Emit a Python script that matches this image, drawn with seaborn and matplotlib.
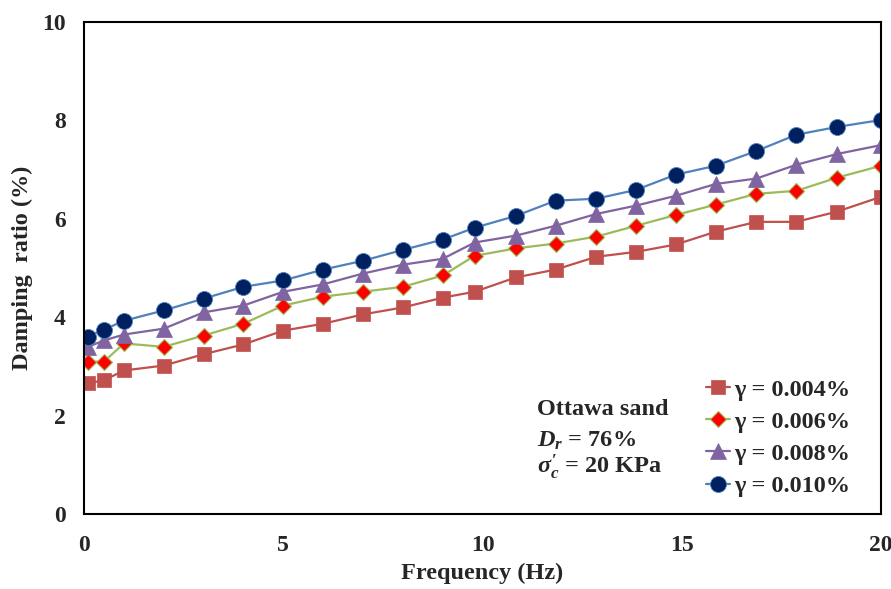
import matplotlib
matplotlib.use("Agg")
import matplotlib.pyplot as plt
import seaborn as sns
import pandas as pd

freq = [0.1, 0.5, 1, 2, 3, 4, 5, 6, 7, 8, 9, 9.8, 10.83, 11.83, 12.85, 13.85,
        14.85, 15.85, 16.87, 17.87, 18.9, 20]
d004 = [2.66, 2.72, 2.92, 3.02, 3.25, 3.45, 3.73, 3.87, 4.06, 4.20, 4.40, 4.52,
        4.81, 4.97, 5.23, 5.33, 5.48, 5.74, 5.94, 5.94, 6.15, 6.45]
d006 = [3.10, 3.10, 3.47, 3.40, 3.63, 3.87, 4.24, 4.42, 4.52, 4.62, 4.85, 5.25,
        5.40, 5.50, 5.64, 5.86, 6.08, 6.29, 6.51, 6.57, 6.84, 7.08]
d008 = [3.40, 3.53, 3.65, 3.77, 4.10, 4.24, 4.52, 4.67, 4.89, 5.07, 5.19, 5.52,
        5.66, 5.86, 6.10, 6.27, 6.47, 6.71, 6.82, 7.10, 7.32, 7.50]
d010 = [3.61, 3.75, 3.93, 4.14, 4.38, 4.62, 4.75, 4.97, 5.15, 5.37, 5.58, 5.82,
        6.06, 6.37, 6.41, 6.59, 6.90, 7.08, 7.38, 7.71, 7.87, 8.01]

labels = ["γ = 0.004%", "γ = 0.006%", "γ = 0.008%", "γ = 0.010%"]

sns.set_style("white")
plt.rcParams["font.family"] = ["Liberation Serif", "DejaVu Serif"]
plt.rcParams["font.weight"] = "bold"
plt.rcParams["mathtext.fontset"] = "custom"
plt.rcParams["mathtext.rm"] = "Liberation Serif:bold"
plt.rcParams["mathtext.it"] = "Liberation Serif:italic:bold"
plt.rcParams["mathtext.bf"] = "Liberation Serif:bold"

fig = plt.figure(figsize=(8.91, 5.89), dpi=100)
ax = fig.add_axes([0.0943, 0.127, 0.8947, 0.8356])

styles = [
    dict(color="#C0504D", marker="s", markersize=9.5, markerfacecolor="#C0504D",
         markeredgecolor="#C0504D", markeredgewidth=0.5),
    dict(color="#9BBB59", marker="D", markersize=8.5, markerfacecolor="#FF0000",
         markeredgecolor="#9BBB59", markeredgewidth=0.8),
    dict(color="#8064A2", marker="^", markersize=11.5, markerfacecolor="#8064A2",
         markeredgecolor="#8064A2", markeredgewidth=0.5),
    dict(color="#4F81BD", marker="o", markersize=11.5, markerfacecolor="#002060",
         markeredgecolor="#4F81BD", markeredgewidth=0.6),
]

for vals, lab, st in zip([d004, d006, d008, d010], labels, styles):
    df = pd.DataFrame({"Frequency": freq, "Damping": vals})
    sns.lineplot(data=df, x="Frequency", y="Damping", ax=ax, label=lab,
                 linewidth=1.6, **st)

ax.set_xlim(0, 20)
ax.set_ylim(0, 10)
ax.set_xticks([0, 5, 10, 15, 20])
ax.set_yticks([0, 2, 4, 6, 8, 10])
ax.set_xlabel("Frequency (Hz)", fontsize=17.5, fontweight="bold", labelpad=5)
ax.set_ylabel("Damping  ratio (%)", fontsize=17.5, fontweight="bold", labelpad=7)
ax.tick_params(axis="both", direction="out", length=5, width=1.5,
               labelsize=17, pad=8)
ax.tick_params(axis="x", pad=10)
for lbl in ax.get_xticklabels() + ax.get_yticklabels():
    lbl.set_fontweight("bold")
for sp in ax.spines.values():
    sp.set_linewidth(1.5)
    sp.set_color("black")

leg = ax.legend(loc="lower right", bbox_to_anchor=(0.982, 0.0), frameon=False,
                fontsize=17.5, handlelength=1.0, handletextpad=0.15,
                labelspacing=0.42, borderpad=0.2)
for t in leg.get_texts():
    t.set_fontweight("bold")

ax.text(0.568, 0.201, "Ottawa sand", transform=ax.transAxes, fontsize=17.5,
        fontweight="bold", va="baseline")
ax.text(0.568, 0.138, r"$D_r$ = 76%", transform=ax.transAxes, fontsize=17.5,
        fontweight="bold", va="baseline")
ax.text(0.568, 0.083, r"$\sigma^{\prime}_c$ = 20 KPa", transform=ax.transAxes,
        fontsize=17.5, fontweight="bold", va="baseline")

fig.savefig("out.png", dpi=100)
